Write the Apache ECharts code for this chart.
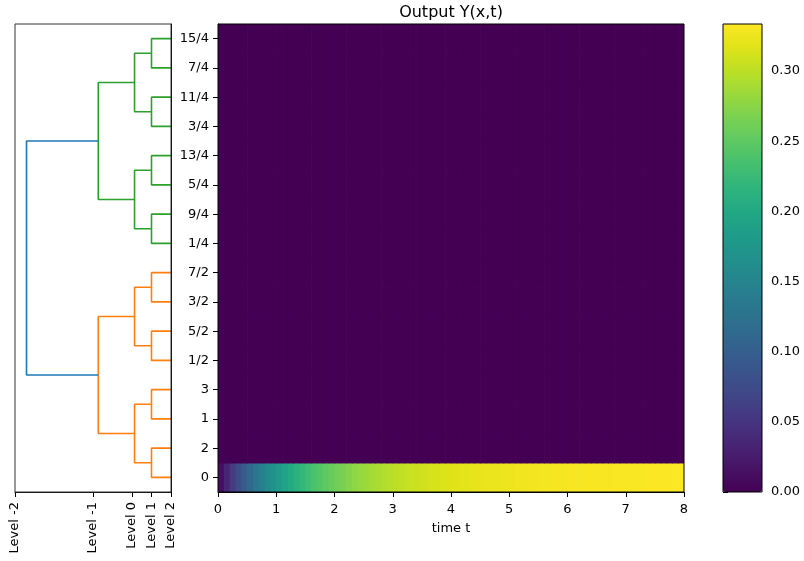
<!DOCTYPE html>
<html><head><meta charset="utf-8">
<script src="https://cdn.jsdelivr.net/npm/echarts@6/dist/echarts.min.js"></script>
<style>html,body{margin:0;padding:0;background:#fff}#c{width:804px;height:561px}</style>
</head><body><div id="c"></div>
<script>
// ---------- data ----------
// heatmap rows, bottom to top (same order as dendrogram leaves)
const rowLabels = ['0','2','1','3','1/2','5/2','3/2','7/2','1/4','9/4','5/4','13/4','3/4','11/4','7/4','15/4'];
// time columns: 80 columns of width 0.1 from t=0 to t=8
const timeStart = 0, timeEnd = 8, timeStep = 0.1;
// output Y(x,t) for row "0" (one value per time column)
const row0Values = [
 0.0123,0.0355,0.0570,0.0770,0.0955,0.1127,0.1287,0.1435,0.1572,0.1699,
 0.1818,0.1927,0.2029,0.2123,0.2211,0.2292,0.2368,0.2437,0.2502,0.2562,
 0.2618,0.2670,0.2718,0.2763,0.2804,0.2842,0.2878,0.2911,0.2942,0.2970,
 0.2996,0.3021,0.3044,0.3065,0.3084,0.3102,0.3119,0.3135,0.3149,0.3163,
 0.3175,0.3187,0.3197,0.3207,0.3217,0.3225,0.3233,0.3240,0.3247,0.3254,
 0.3259,0.3265,0.3270,0.3275,0.3279,0.3283,0.3287,0.3290,0.3294,0.3297,
 0.3299,0.3302,0.3304,0.3307,0.3309,0.3310,0.3312,0.3314,0.3315,0.3317,
 0.3318,0.3319,0.3320,0.3322,0.3323,0.3323,0.3324,0.3325,0.3326,0.3326
];
// every other row stays at 0
const otherRowsValue = 0;
const timeTicks = [0,1,2,3,4,5,6,7,8];
const colorbarMin = 0, colorbarMax = 0.3335;
const colorbarTicks = [0,0.05,0.10,0.15,0.20,0.25,0.30];
// dendrogram
const levelValues = [8,4,2,1,0];
const levelLabels = ['Level -2','Level -1','Level 0','Level 1','Level 2'];
const mergeHeights = [1.0, 1.87, 3.73, 7.41]; // pairs, quads, eights, root

// ---------- styles ----------
const FONT = 'DejaVu Sans';
const viridis = ['#440154','#471365','#482475','#463480','#414487','#3b528b','#355f8d','#2f6c8e','#2a788e','#25848e','#21918c','#1e9c89','#22a884','#2fb47c','#44bf70','#5ec962','#7ad151','#9bd93c','#bddf26','#dfe318','#fde725'];
const clusterColors = ['#ff7f0e','#2ca02c'];
const rootColor = '#1f77b4';

// ---------- build ----------
const nCols = Math.round((timeEnd - timeStart) / timeStep);
const timeCats = [];
for (let i = 0; i < nCols; i++) timeCats.push((timeStart + (i + 0.5) * timeStep).toFixed(2));
const heatData = [];
rowLabels.forEach((lab, r) => {
  for (let c = 0; c < nCols; c++) {
    heatData.push([c, r, lab === '0' ? row0Values[c] : otherRowsValue]);
  }
});

// dendrogram links
let nodes = rowLabels.map((l, i) => ({ y: i + 0.5, h: 0, start: i }));
const links = [];
mergeHeights.forEach((H, lvl) => {
  const next = [];
  for (let i = 0; i < nodes.length; i += 2) {
    const a = nodes[i], b = nodes[i + 1];
    const color = lvl === mergeHeights.length - 1 ? rootColor : clusterColors[Math.floor(a.start / 8)];
    links.push({ pts: [[a.h, a.y], [H, a.y], [H, b.y], [b.h, b.y]], color });
    next.push({ y: (a.y + b.y) / 2, h: H, start: a.start });
  }
  nodes = next;
});

const txt = { color: '#000', fontFamily: FONT, fontSize: 13 };
const tick = { show: true, inside: false, length: 5, lineStyle: { color: '#000', width: 1 } };
const line = { show: true, lineStyle: { color: '#000', width: 1 } };

const series = links.map(l => ({
  type: 'line', xAxisIndex: 0, yAxisIndex: 0, data: l.pts, showSymbol: false, symbol: 'none',
  lineStyle: { color: l.color, width: 1.6 }, silent: true, animation: false, clip: false
}));
series.push({
  type: 'custom', xAxisIndex: 1, yAxisIndex: 1, data: heatData, silent: true, animation: false,
  encode: { x: 0, y: 1 }, clip: true,
  renderItem: (params, api) => {
    const c = api.coord([api.value(0), api.value(1)]);
    const s = api.size([1, 1]);
    return { type: 'rect',
      shape: { x: c[0] - s[0] / 2, y: c[1] - s[1] / 2, width: s[0] + 0.7, height: s[1] + 0.7 },
      style: { fill: api.visual('color') } };
  }
});
const heatIndex = series.length - 1;

const option = {
  animation: false,
  backgroundColor: '#fff',
  textStyle: { fontFamily: FONT },
  title: { text: 'Output Y(x,t)', left: 451, top: 5, textAlign: 'center', padding: 0,
    textStyle: { fontFamily: FONT, fontSize: 16, fontWeight: 'normal', color: '#000' } },
  grid: [
    { left: 15, top: 24, width: 156, height: 468, show: true, borderColor: '#333', borderWidth: 1, z: 10, backgroundColor: 'transparent' },
    { left: 218, top: 24, width: 466, height: 468, show: true, borderColor: '#000', borderWidth: 1, z: 10, backgroundColor: 'transparent' },
    { left: 723, top: 24, width: 39, height: 468, show: true, borderColor: '#000', borderWidth: 1, z: 10, backgroundColor: 'transparent' }
  ],
  xAxis: [
    { type: 'value', gridIndex: 0, min: 0, max: 8, inverse: true, position: 'bottom',
      axisLine: line, splitLine: { show: false },
      axisTick: Object.assign({}, tick, { customValues: levelValues }),
      axisLabel: Object.assign({}, txt, { customValues: levelValues, rotate: 90, margin: 10,
        formatter: v => levelLabels[levelValues.indexOf(v)] }) },
    { type: 'category', gridIndex: 1, data: timeCats, show: false, position: 'top' },
    { type: 'value', gridIndex: 1, min: timeStart, max: timeEnd, interval: 1, position: 'bottom',
      axisLine: line, splitLine: { show: false },
      axisTick: Object.assign({}, tick, { customValues: timeTicks }),
      axisLabel: Object.assign({}, txt, { customValues: timeTicks, margin: 11 }),
      name: 'time t', nameLocation: 'middle', nameGap: 30, nameTextStyle: Object.assign({}, txt) },
    { type: 'value', gridIndex: 2, min: 0, max: 1, show: false }
  ],
  yAxis: [
    { type: 'value', gridIndex: 0, min: 0, max: rowLabels.length, axisLine: line,
      axisTick: { show: false }, axisLabel: { show: false }, splitLine: { show: false } },
    { type: 'category', gridIndex: 1, data: rowLabels, axisLine: line,
      axisTick: Object.assign({}, tick, { alignWithLabel: true }),
      axisLabel: Object.assign({}, txt, { margin: 9, padding: [5, 0, 0, 0] }), splitLine: { show: false } },
    { type: 'value', gridIndex: 2, min: colorbarMin, max: colorbarMax, position: 'right',
      axisLine: { show: false }, splitLine: { show: false },
      axisTick: Object.assign({}, tick, { customValues: colorbarTicks }),
      axisLabel: Object.assign({}, txt, { customValues: colorbarTicks, margin: 9, padding: [3, 0, 0, 0], formatter: v => v.toFixed(2) }) }
  ],
  visualMap: {
    type: 'continuous', seriesIndex: heatIndex, dimension: 2, min: colorbarMin, max: colorbarMax,
    left: 723, top: 24, itemWidth: 39, itemHeight: 468, padding: 0, calculable: false,
    orient: 'vertical', inRange: { color: viridis }, hoverLink: false
  },
  series
};
const chart = echarts.init(document.getElementById('c'), null, { renderer: 'canvas' });
chart.setOption(option);
</script>
</body></html>
